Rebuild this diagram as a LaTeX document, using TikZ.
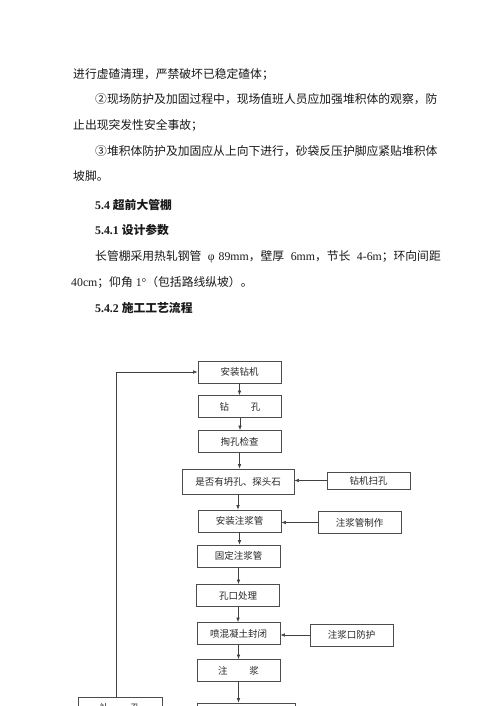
\documentclass[tikz,border=0pt]{standalone}
\usepackage{fontspec}
\setmainfont{Liberation Serif}
\newfontfamily\cjk{Noto Sans CJK SC}
\usetikzlibrary{arrows.meta}
\begin{document}
\begin{tikzpicture}[x=1pt,y=-1pt,
  body/.style={anchor=base west, inner sep=0pt, text=black!90, font=\fontsize{11.8}{14}\selectfont},
  flowbox/.style={draw=black!70, line width=0.7pt, minimum width=83pt, minimum height=22pt, inner sep=0pt, text=black!85, font=\cjk\fontsize{9.5}{11}\selectfont},
  conn/.style={draw=black!75, line width=0.6pt, -{Latex[length=4.5pt,width=3.5pt]}}]
\useasboundingbox (0,0) rectangle (500,706);
\clip (0,0) rectangle (500,706);
\fill[white] (0,0) rectangle (500,706);

% body text
\node[body] (t1) at (73,78.5) {\cjk 进行虚碴清理，严禁破坏已稳定碴体；};
\node[body] (t2) at (95,103.5) {\cjk ②现场防护及加固过程中，现场值班人员应加强堆积体的观察，防};
\node[body] (t3) at (73,129.5) {\cjk 止出现突发性安全事故；};
\node[body] (t4) at (95,155.5) {\cjk ③堆积体防护及加固应从上向下进行，砂袋反压护脚应紧贴堆积体};
\node[body] (t5) at (73,180.5) {\cjk 坡脚。};
\node[body] (t6) at (95,209.5) {\bfseries 5.4 {\cjk 超前大管棚}};
\node[body] (t7) at (95,234.5) {\bfseries 5.4.1 {\cjk 设计参数}};
\node[body] (t8) at (95,260.5) {{\cjk 长管棚采用热轧钢管}\hspace{6.5pt}φ\hspace{4pt}89mm{\cjk ，壁厚}\hspace{6.5pt}6mm{\cjk ，节长}\hspace{6.5pt}4-6m{\cjk ；环向间距}};
\node[body] (t9) at (71,286.5) {40cm{\cjk ；仰角}~1°{\cjk （包括路线纵坡）。}};
\node[body] (t10) at (95,312.5) {\bfseries 5.4.2 {\cjk 施工工艺流程}};

% flow chart
\node[flowbox] (a1) at (239.5,372) {安装钻机};
\node[flowbox] (a2) at (240,406.5) {钻\hspace{22pt}孔};
\node[flowbox] (a3) at (239.5,441.5) {掏孔检查};
\node[flowbox, minimum width=112pt, minimum height=25pt] (a4) at (238,481.5) {是否有坍孔、探头石};
\node[flowbox, minimum height=17pt] (s1) at (368.5,480.5) {钻机扫孔};
\node[flowbox] (a5) at (239.5,521) {安装注浆管};
\node[flowbox] (s2) at (359.5,522.5) {注浆管制作};
\node[flowbox] (a6) at (238.5,556) {固定注浆管};
\node[flowbox] (a7) at (238,595.5) {孔口处理};
\node[flowbox] (a8) at (238.5,633.5) {喷混凝土封闭};
\node[flowbox] (s3) at (351.5,635) {注浆口防护};
\node[flowbox] (a9) at (238.5,670.5) {注\hspace{22pt}浆};
\node[flowbox, minimum width=98pt] (a10) at (246,714) {};
\node[flowbox, minimum width=84pt] (lb) at (120,708) {补\hspace{22pt}孔};

\draw[conn] (a1.south) -- (a1.south |- a2.north);
\draw[conn] (a2.south) -- (a2.south |- a3.north);
\draw[conn] (a3.south) -- (a3.south |- a4.north);
\draw[conn] (a4.south) -- (a4.south |- a5.north);
\draw[conn] (a5.south) -- (a5.south |- a6.north);
\draw[conn] (a6.south) -- (a6.south |- a7.north);
\draw[conn] (a7.south) -- (a7.south |- a8.north);
\draw[conn] (a8.south) -- (a8.south |- a9.north);
\draw[conn] (a9.south) -- (a9.south |- a10.north);
\draw[conn] (s1.west) -- (s1.west -| a4.east);
\draw[conn] (s2.west) -- (s2.west -| a5.east);
\draw[conn] (s3.west) -- (s3.west -| a8.east);
\draw[conn] ([xshift=-4pt]lb.north) |- (a1.west);
\draw[conn] (a10.west |- lb.east) -- (lb.east);
\end{tikzpicture}
\end{document}
